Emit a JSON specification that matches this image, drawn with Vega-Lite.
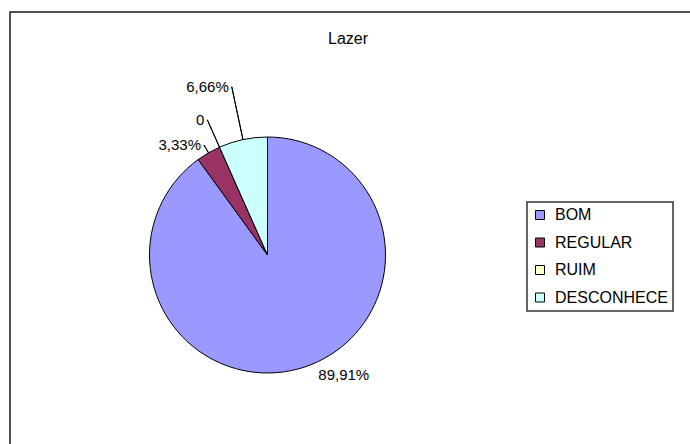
{
  "$schema": "https://vega.github.io/schema/vega-lite/v6.json",
  "width": 700,
  "height": 452,
  "autosize": {"type": "none"},
  "padding": {"left": 10, "top": 12, "right": -20, "bottom": -20},
  "background": "white",
  "view": {"stroke": "#1a1a1a", "strokeWidth": 1.5, "fill": "white"},
  "title": {
    "text": "Lazer",
    "font": "Liberation Sans",
    "fontSize": 16,
    "fontWeight": "normal",
    "color": "#000",
    "anchor": "middle",
    "frame": "group",
    "baseline": "alphabetic",
    "offset": -31,
    "dy": 17,
    "dx": -12
  },
  "data": {
    "values": [
      {"cat": "BOM", "pct": 89.91, "label": "89,91%"},
      {"cat": "REGULAR", "pct": 3.33, "label": "3,33%"},
      {"cat": "RUIM", "pct": 0, "label": "0"},
      {"cat": "DESCONHECE", "pct": 6.66, "label": "6,66%"}
    ]
  },
  "transform": [
    {"stack": "pct", "groupby": [], "as": ["p0", "p1"]},
    {"calculate": "(datum.p0 + datum.p1) / 2", "as": "pm"}
  ],
  "layer": [
    {
      "mark": {"type": "arc", "radius": 118, "stroke": "#000", "strokeWidth": 1, "xOffset": -92.5, "yOffset": 17},
      "encoding": {
        "theta": {"field": "p1", "type": "quantitative"},
        "theta2": {"field": "p0"},
        "color": {
          "field": "cat",
          "type": "nominal",
          "scale": {
            "domain": ["BOM", "REGULAR", "RUIM", "DESCONHECE"],
            "range": ["#9999FF", "#993366", "#FFFFCC", "#CCFFFF"]
          },
          "legend": {
            "orient": "none",
            "legendX": 517,
            "legendY": 190,
            "title": null,
            "strokeColor": "#333",
            "fillColor": "#fff",
            "padding": 5,
            "symbolType": "square",
            "symbolSize": 81,
            "symbolStrokeColor": "#000",
            "symbolStrokeWidth": 1,
            "symbolOpacity": 1,
            "labelFont": "Liberation Sans",
            "labelFontSize": 16,
            "labelColor": "#000",
            "labelOffset": 7,
            "rowPadding": 11.5,
            "labelLimit": 400
          }
        }
      }
    },
    {
      "transform": [{"filter": "datum.cat == 'DESCONHECE'"}],
      "mark": {"type": "arc", "radius": 172, "radius2": 118, "filled": false, "stroke": "#000", "strokeWidth": 1, "xOffset": -92.5, "yOffset": 17},
      "encoding": {"theta": {"field": "pm", "type": "quantitative"}, "theta2": {"field": "pm"}}
    },
    {
      "transform": [{"filter": "datum.cat == 'RUIM'"}],
      "mark": {"type": "arc", "radius": 148, "radius2": 118, "filled": false, "stroke": "#000", "strokeWidth": 1, "xOffset": -92.5, "yOffset": 17},
      "encoding": {"theta": {"field": "pm", "type": "quantitative"}, "theta2": {"field": "pm"}}
    },
    {
      "transform": [{"filter": "datum.cat == 'REGULAR'"}],
      "mark": {"type": "arc", "radius": 127, "radius2": 118, "filled": false, "stroke": "#000", "strokeWidth": 1, "xOffset": -92.5, "yOffset": 17},
      "encoding": {"theta": {"field": "pm", "type": "quantitative"}, "theta2": {"field": "pm"}}
    },
    {
      "transform": [{"filter": "datum.cat == 'DESCONHECE'"}],
      "mark": {"type": "text", "radius": 172, "align": "right", "baseline": "middle", "dx": -3, "font": "Liberation Sans", "fontSize": 15, "color": "#000", "xOffset": -92.5, "yOffset": 17},
      "encoding": {"theta": {"field": "pm", "type": "quantitative"}, "text": {"field": "label"}}
    },
    {
      "transform": [{"filter": "datum.cat == 'RUIM'"}],
      "mark": {"type": "text", "radius": 148, "align": "right", "baseline": "middle", "dx": -3, "font": "Liberation Sans", "fontSize": 15, "color": "#000", "xOffset": -92.5, "yOffset": 17},
      "encoding": {"theta": {"field": "pm", "type": "quantitative"}, "text": {"field": "label"}}
    },
    {
      "transform": [{"filter": "datum.cat == 'REGULAR'"}],
      "mark": {"type": "text", "radius": 127, "align": "right", "baseline": "middle", "dx": -3, "font": "Liberation Sans", "fontSize": 15, "color": "#000", "xOffset": -92.5, "yOffset": 17},
      "encoding": {"theta": {"field": "pm", "type": "quantitative"}, "text": {"field": "label"}}
    },
    {
      "transform": [{"filter": "datum.cat == 'BOM'"}],
      "mark": {"type": "text", "radius": 140, "align": "center", "baseline": "middle", "dx": 33, "dy": -13, "font": "Liberation Sans", "fontSize": 15, "color": "#000", "xOffset": -92.5, "yOffset": 17},
      "encoding": {"theta": {"field": "pm", "type": "quantitative"}, "text": {"field": "label"}}
    }
  ],
  "config": {
    "view": {"stroke": "#1a1a1a", "strokeWidth": 1.5},
    "legend": {"strokeWidth": 1.5}
  }
}
